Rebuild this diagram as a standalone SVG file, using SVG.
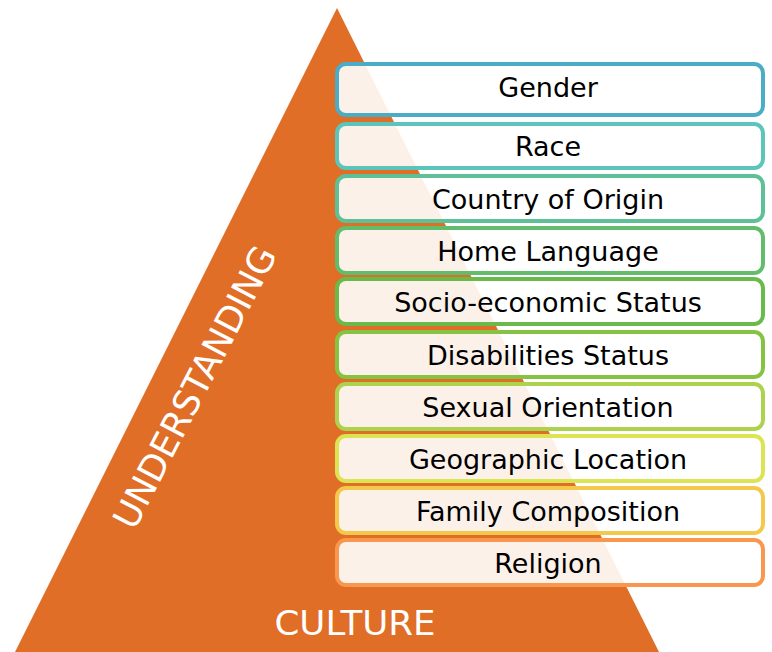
<svg xmlns="http://www.w3.org/2000/svg" width="772" height="652" viewBox="0 0 772 652">
<style>
.box{fill:#ffffff;fill-opacity:0.9;stroke-width:4}
.lbl{font-family:"DejaVu Sans","Liberation Sans",sans-serif;font-size:27px;fill:#000000;text-anchor:middle}
.big{font-family:"DejaVu Sans","Liberation Sans",sans-serif;fill:#ffffff;text-anchor:middle}
</style>
<rect width="772" height="652" fill="#ffffff"/>
<g id="pyramid">
<polygon points="337,8 15,652 659,652" fill="#E06E27"/>
<text class="big" x="355" y="635" font-size="33" textLength="161" lengthAdjust="spacingAndGlyphs">CULTURE</text>
<text class="big" transform="translate(206,393) rotate(-62.6)" x="0" y="0" font-size="36" textLength="312" lengthAdjust="spacingAndGlyphs">UNDERSTANDING</text>
</g>
<g id="connectors"></g>
<g id="gender"><rect class="box" x="337" y="64" width="426" height="51" rx="9" stroke="#4BACC6"/><text class="lbl" x="548" y="96.5">Gender</text></g>
<g id="race"><rect class="box" x="337" y="124" width="426" height="44" rx="9" stroke="#5CC5BB"/><text class="lbl" x="548" y="156">Race</text></g>
<g id="country"><rect class="box" x="337" y="176" width="426" height="45" rx="9" stroke="#5EC096"/><text class="lbl" x="548" y="208.5">Country of Origin</text></g>
<g id="home"><rect class="box" x="337" y="228" width="426" height="45" rx="9" stroke="#63BC6C"/><text class="lbl" x="548" y="260.5">Home Language</text></g>
<g id="socio"><rect class="box" x="337" y="279" width="426" height="45" rx="9" stroke="#69BA4A"/><text class="lbl" x="548" y="311.5">Socio-economic Status</text></g>
<g id="disab"><rect class="box" x="337" y="332" width="426" height="45" rx="9" stroke="#87C342"/><text class="lbl" x="548" y="364.5">Disabilities Status</text></g>
<g id="sexual"><rect class="box" x="337" y="384" width="426" height="45" rx="9" stroke="#ADD34E"/><text class="lbl" x="548" y="416.5">Sexual Orientation</text></g>
<g id="geo"><rect class="box" x="337" y="436" width="426" height="45" rx="9" stroke="#DDE452"/><text class="lbl" x="548" y="468.5">Geographic Location</text></g>
<g id="family"><rect class="box" x="337" y="488" width="426" height="45" rx="9" stroke="#F4C84A"/><text class="lbl" x="548" y="520.5">Family Composition</text></g>
<g id="religion"><rect class="box" x="337" y="540" width="426" height="45" rx="9" stroke="#F8974D"/><text class="lbl" x="548" y="572.5">Religion</text></g>
</svg>
